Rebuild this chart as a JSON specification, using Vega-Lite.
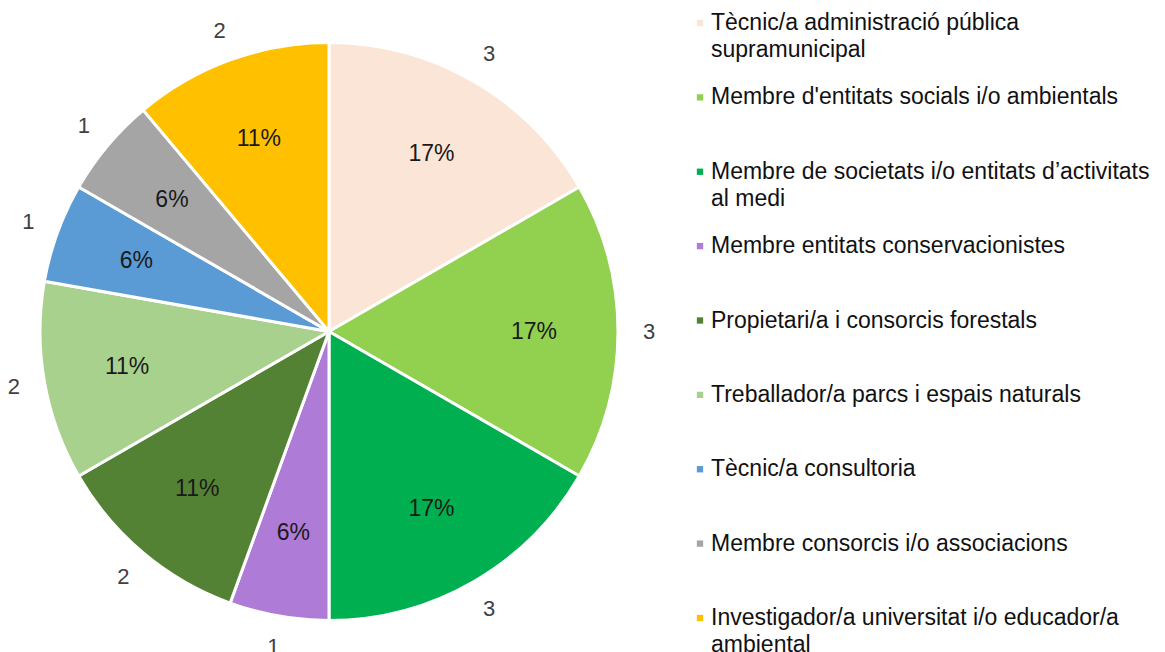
{
  "$schema": "https://vega.github.io/schema/vega-lite/v6.json",
  "padding": 0,
  "spacing": 0,
  "background": "white",
  "config": {"view": {"stroke": null}, "font": "Liberation Sans"},
  "datasets": {
    "cats": [
      {"order": 1, "category": "Tècnic/a administració pública supramunicipal", "label": "Tècnic/a administració pública\nsupramunicipal", "count": 3, "pct": "17%"},
      {"order": 2, "category": "Membre d'entitats socials i/o ambientals", "label": "Membre d'entitats socials i/o ambientals", "count": 3, "pct": "17%"},
      {"order": 3, "category": "Membre de societats i/o entitats d’activitats al medi", "label": "Membre de societats i/o entitats d’activitats\nal medi", "count": 3, "pct": "17%"},
      {"order": 4, "category": "Membre entitats conservacionistes", "label": "Membre entitats conservacionistes", "count": 1, "pct": "6%"},
      {"order": 5, "category": "Propietari/a i consorcis forestals", "label": "Propietari/a i consorcis forestals", "count": 2, "pct": "11%"},
      {"order": 6, "category": "Treballador/a parcs i espais naturals", "label": "Treballador/a parcs i espais naturals", "count": 2, "pct": "11%"},
      {"order": 7, "category": "Tècnic/a consultoria", "label": "Tècnic/a consultoria", "count": 1, "pct": "6%"},
      {"order": 8, "category": "Membre consorcis i/o associacions", "label": "Membre consorcis i/o associacions", "count": 1, "pct": "6%"},
      {"order": 9, "category": "Investigador/a universitat i/o educador/a ambiental", "label": "Investigador/a universitat i/o educador/a\nambiental", "count": 2, "pct": "11%"}
    ]
  },
  "hconcat": [
    {
      "width": 658,
      "height": 663,
      "data": {"name": "cats"},
      "encoding": {
        "theta": {"field": "count", "type": "quantitative", "stack": true},
        "order": {"field": "order", "type": "quantitative", "sort": "ascending"},
        "color": {
          "field": "category",
          "type": "nominal",
          "sort": {"field": "order"},
          "legend": null,
          "scale": {
            "domain": [
              "Tècnic/a administració pública supramunicipal",
              "Membre d'entitats socials i/o ambientals",
              "Membre de societats i/o entitats d’activitats al medi",
              "Membre entitats conservacionistes",
              "Propietari/a i consorcis forestals",
              "Treballador/a parcs i espais naturals",
              "Tècnic/a consultoria",
              "Membre consorcis i/o associacions",
              "Investigador/a universitat i/o educador/a ambiental"
            ],
            "range": ["#FBE5D6", "#92D050", "#00B050", "#AE7BD6", "#548235", "#A9D18E", "#5B9BD5", "#A5A5A5", "#FFC000"]
          }
        }
      },
      "layer": [
        {"mark": {"type": "arc", "outerRadius": 289, "stroke": "white", "strokeWidth": 3}},
        {
          "mark": {"type": "text", "radius": 205, "fontSize": 23, "font": "Liberation Sans", "baseline": "middle", "align": "center"},
          "encoding": {"text": {"field": "pct", "type": "nominal"}, "color": {"value": "#1a1a1a"}}
        },
        {
          "mark": {"type": "text", "radius": 320, "fontSize": 22, "font": "Liberation Sans", "baseline": "middle", "align": "center"},
          "encoding": {"text": {"field": "count", "type": "quantitative"}, "color": {"value": "#404040"}}
        }
      ]
    },
    {
      "width": 507,
      "height": 663,
      "data": {"name": "cats"},
      "encoding": {
        "y": {
          "field": "category",
          "type": "nominal",
          "sort": {"field": "order"},
          "axis": null,
          "scale": {"type": "point", "range": [30, 625], "padding": 0}
        }
      },
      "layer": [
        {
          "mark": {"type": "point", "shape": "square", "filled": true, "size": 40, "opacity": 1, "yOffset": -7},
          "encoding": {
            "x": {"value": 42},
            "color": {
              "field": "category",
              "type": "nominal",
              "legend": null,
              "scale": {
                "domain": [
                  "Tècnic/a administració pública supramunicipal",
                  "Membre d'entitats socials i/o ambientals",
                  "Membre de societats i/o entitats d’activitats al medi",
                  "Membre entitats conservacionistes",
                  "Propietari/a i consorcis forestals",
                  "Treballador/a parcs i espais naturals",
                  "Tècnic/a consultoria",
                  "Membre consorcis i/o associacions",
                  "Investigador/a universitat i/o educador/a ambiental"
                ],
                "range": ["#FBE5D6", "#92D050", "#00B050", "#AE7BD6", "#548235", "#A9D18E", "#5B9BD5", "#A5A5A5", "#FFC000"]
              }
            }
          }
        },
        {
          "mark": {"type": "text", "align": "left", "baseline": "alphabetic", "fontSize": 23, "font": "Liberation Sans", "lineBreak": "\n", "lineHeight": 27, "color": "#111111"},
          "encoding": {
            "x": {"value": 53},
            "text": {"field": "label", "type": "nominal"}
          }
        }
      ]
    }
  ]
}
